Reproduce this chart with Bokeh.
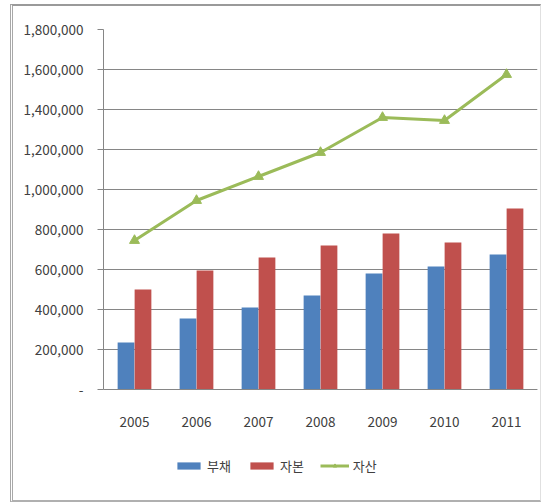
from bokeh.plotting import figure
from bokeh.models import ColumnDataSource, FactorRange, Range1d, Legend, LegendItem, CustomJSTickFormatter, FixedTicker
from bokeh.transform import dodge
from bokeh.embed import file_html
from bokeh.resources import INLINE

years = ["2005", "2006", "2007", "2008", "2009", "2010", "2011"]
debt = [235000, 355000, 410000, 470000, 580000, 615000, 675000]      # 부채
equity = [500000, 595000, 660000, 720000, 780000, 735000, 905000]    # 자본
assets = [745000, 945000, 1065000, 1185000, 1360000, 1345000, 1575000]  # 자산
y_ticks = [0, 200000, 400000, 600000, 800000, 1000000, 1200000, 1400000, 1600000, 1800000]
y_max = 1800000

src = ColumnDataSource(dict(year=years, debt=debt, equity=equity, assets=assets))

FONT = "Noto Sans CJK KR"
TXT = "#404040"

# frame runs 29..495 px; value 0 sits at 389 px (5000 per px), leaving room below for labels and legend
FRAME_H = 466
PX_BELOW_ZERO = 106
y_start = -y_max * PX_BELOW_ZERO / 360

p = figure(x_range=FactorRange(*years), y_range=Range1d(y_start, y_max),
           frame_width=434, frame_height=FRAME_H, output_backend="svg", toolbar_location=None,
           min_border_left=90, min_border_right=3, min_border_top=23, min_border_bottom=5,
           margin=(4, 0, 0, 10),
           styles={"border-top": "2px solid #9a9a9a", "border-left": "3px double #a8a8a8",
                   "border-bottom": "2px solid #b0b0b0", "border-right": "1px solid #e0e0e0"})
p.outline_line_color = None
p.background_fill_color = "white"
p.border_fill_color = "white"

r1 = p.vbar(x=dodge("year", -0.137, range=p.x_range), top="debt", width=0.27, source=src,
            fill_color="#4F81BD", line_color=None)
r2 = p.vbar(x=dodge("year", 0.137, range=p.x_range), top="equity", width=0.27, source=src,
            fill_color="#C0504D", line_color=None)
r3 = p.line(x="year", y="assets", source=src, line_color="#9BBB59", line_width=3)
r4 = p.scatter(x="year", y="assets", source=src, marker="triangle", size=10,
               fill_color="#9BBB59", line_color="#9BBB59")

p.yaxis.ticker = FixedTicker(ticks=y_ticks)
p.yaxis.bounds = (0, y_max)
p.yaxis.formatter = CustomJSTickFormatter(code="return tick == 0 ? '-' : tick.toLocaleString('en-US');")
p.yaxis.axis_line_color = "#868686"
p.yaxis.major_tick_line_color = "#868686"
p.yaxis.major_tick_out = 6
p.yaxis.major_tick_in = 0
p.yaxis.minor_tick_line_color = None
p.yaxis.major_label_text_font = FONT
p.yaxis.major_label_text_font_size = "13.5px"
p.yaxis.major_label_text_color = TXT
p.yaxis.major_label_standoff = 14

p.xaxis.fixed_location = 0
p.xaxis.axis_line_color = "#868686"
p.xaxis.major_tick_line_color = None
p.xaxis.major_label_text_font = FONT
p.xaxis.major_label_text_font_size = "13.5px"
p.xaxis.major_label_text_color = TXT
p.xaxis.major_label_standoff = 21

p.xgrid.grid_line_color = None
p.ygrid.ticker = FixedTicker(ticks=y_ticks)
p.ygrid.grid_line_color = "#868686"
p.ygrid.grid_line_width = 1

legend = Legend(items=[LegendItem(label="부채", renderers=[r1]),
                       LegendItem(label="자본", renderers=[r2]),
                       LegendItem(label="자산", renderers=[r3, r4])],
                orientation="horizontal", location=(71, 20),
                glyph_width=29, glyph_height=9, label_standoff=4, spacing=16,
                label_text_font=FONT, label_text_font_size="13px", label_text_color=TXT,
                border_line_color=None, background_fill_alpha=0, padding=0, margin=0)
p.add_layout(legend, "center")

open("out.html", "w").write(file_html(p, INLINE))
